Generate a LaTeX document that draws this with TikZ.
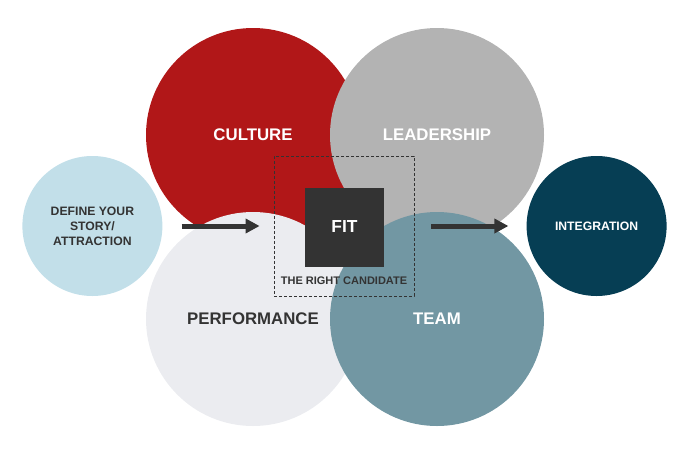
\documentclass[tikz,border=0pt]{standalone}
\usepackage{fontspec}
\setmainfont{Liberation Sans}
\usepackage{xcolor}
\usepackage{tikz}
\usetikzlibrary{arrows.meta,positioning}
\definecolor{fitred}{RGB}{177,23,24}
\definecolor{fitgray}{RGB}{179,179,179}
\definecolor{fitlight}{RGB}{235,236,240}
\definecolor{fitteal}{RGB}{114,151,163}
\definecolor{fitsky}{RGB}{194,223,233}
\definecolor{fitnavy}{RGB}{6,62,84}
\definecolor{fitdark}{RGB}{51,51,51}

\begin{document}
\begin{tikzpicture}[
  x=1pt, y=-1pt,
  big/.style={circle, inner sep=0pt, minimum size=214pt, align=center,
              font=\fontsize{16.8}{18}\selectfont\bfseries},
  small/.style={circle, inner sep=0pt, minimum size=140pt, align=center,
                font=\fontsize{12.2}{15}\selectfont\bfseries},
  arrow/.style={-{Triangle[length=14pt, width=14pt]}, line width=5pt, color=fitdark}
]
  \useasboundingbox (0,0) rectangle (690,455);

  \node[big, fill=fitred, text=white] (culture) at (253,135) {CULTURE};
  \node[big, fill=fitgray, text=white] (leader) at (437,135) {LEADERSHIP};
  \node[big, fill=fitlight, text=fitdark] (perf) at (253,319) {PERFORMANCE};
  \node[big, fill=fitteal, text=white] (team) at (437,319) {TEAM};

  \node[draw=fitdark, dashed, dash pattern=on 3pt off 2pt, line width=0.8pt,
        minimum size=140pt, inner sep=0pt] (fitbox) at (344,226) {};
  \node[fill=fitdark, text=white, minimum size=79pt, inner sep=0pt,
        font=\fontsize{17.4}{18}\selectfont\bfseries] (fit) at (344.5,227) {FIT};
  \node[text=fitdark, inner sep=0pt, font=\fontsize{11}{12}\selectfont\bfseries]
        (cand) at (344,281) {THE RIGHT CANDIDATE};

  \node[small, fill=fitsky, text=fitdark, left=111pt of fitbox] (story)
        {DEFINE YOUR\\STORY/\\ATTRACTION};
  \node[small, fill=fitnavy, text=white, right=112pt of fitbox] (integ) {INTEGRATION};

  \draw[arrow, shorten <=19pt, shorten >=14pt] (story) -- (fitbox);
  \draw[arrow, shorten <=17pt, shorten >=18pt] (fitbox) -- (integ);
\end{tikzpicture}
\end{document}
